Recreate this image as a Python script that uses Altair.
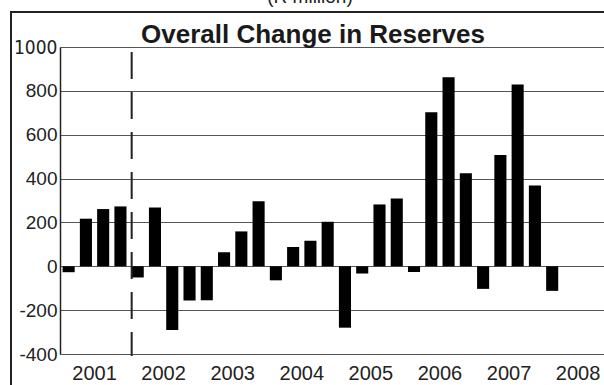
import altair as alt
import pandas as pd

# ---- data ----
quarters = [
    "2001Q1", "2001Q2", "2001Q3", "2001Q4",
    "2002Q1", "2002Q2", "2002Q3", "2002Q4",
    "2003Q1", "2003Q2", "2003Q3", "2003Q4",
    "2004Q1", "2004Q2", "2004Q3", "2004Q4",
    "2005Q1", "2005Q2", "2005Q3", "2005Q4",
    "2006Q1", "2006Q2", "2006Q3", "2006Q4",
    "2007Q1", "2007Q2", "2007Q3", "2007Q4",
    "2008Q1",
]
values = [
    -27, 217, 261, 273,
    -51, 268, -291, -156,
    -155, 64, 159, 297,
    -64, 88, 117, 203,
    -280, -33, 282, 309,
    -26, 703, 862, 424,
    -103, 508, 829, 368,
    -112,
]
years = [2001, 2002, 2003, 2004, 2005, 2006, 2007, 2008]
y_ticks = [-400, -200, 0, 200, 400, 600, 800, 1000]
separator_pos = [4.15]   # dashed divider just after 2001Q4
title_text = "Overall Change in Reserves"
unit_text = "(R million)"

# ---- build tables ----
df = pd.DataFrame({"quarter": quarters, "value": values})
df["i"] = range(len(df))
df["x0"] = df["i"] + 0.15
df["x1"] = df["i"] + 0.85
sep_df = pd.DataFrame({"pos": separator_pos})
year_df = pd.DataFrame({"year": [str(y) for y in years]})
year_df["mid"] = [(y - years[0]) * 4 + 2 for y in years]

W, H = 544, 307
FONT = "Liberation Sans"

x_scale = alt.Scale(domain=[0, 31.5], nice=False, zero=False)
y_scale = alt.Scale(domain=[-400, 1000], nice=False)

x_axis = alt.Axis(
    values=[v * 4 for v in range(0, 8)],
    title=None,
    grid=False,
    domain=True,
    domainColor="#222222",
    domainWidth=1,
    ticks=True,
    tickSize=5,
    tickColor="#222222",
    labels=False,
)
y_axis = alt.Axis(
    values=y_ticks,
    title=None,
    grid=True,
    gridColor="#555555",
    gridWidth=1,
    domain=True,
    domainColor="#222222",
    domainWidth=1.5,
    ticks=False,
    labelExpr="toString(datum.value)",
    labelFont={"condition": {"test": "datum.value == 1000",
                             "value": "Liberation Sans Narrow, DejaVu Sans Condensed, Liberation Sans"},
               "value": FONT},
    labelFontSize=19,
    labelColor="#222222",
    labelPadding=3,
    labelOverlap=False,
    labelFlush=False,
)

bars = alt.Chart(df).mark_bar(color="#000000").encode(
    x=alt.X("x0:Q", scale=x_scale, axis=x_axis),
    x2="x1:Q",
    y=alt.Y("value:Q", scale=y_scale, axis=y_axis),
    y2=alt.datum(0),
)

year_labels = alt.Chart(year_df).mark_text(
    font=FONT, fontSize=20, color="#222222", align="center", baseline="alphabetic"
).encode(
    x=alt.X("mid:Q", scale=x_scale, axis=None),
    y=alt.value(H + 26),
    text="year:N",
)

sep = alt.Chart(sep_df).mark_rule(
    color="#222222", strokeWidth=2, strokeDash=[27, 13]
).encode(
    x=alt.X("pos:Q", scale=x_scale, axis=None),
    y=alt.value(5),
    y2=alt.value(H + 2),
)

frame_top = alt.Chart(sep_df).mark_rule(color="#222222", strokeWidth=2).encode(
    x=alt.value(-49), x2=alt.value(W + 5), y=alt.value(-35)
)
frame_left = alt.Chart(sep_df).mark_rule(color="#222222", strokeWidth=2).encode(
    x=alt.value(-49), y=alt.value(-36), y2=alt.value(H + 40)
)

title = alt.Chart(sep_df).mark_text(
    text=title_text, font=FONT, fontSize=26, fontWeight="bold",
    color="#1a1a1a", align="center", baseline="alphabetic"
).encode(x=alt.value(253), y=alt.value(-4.5))

unit = alt.Chart(sep_df).mark_text(
    text=unit_text, font=FONT, fontSize=19,
    color="#222222", align="center", baseline="alphabetic"
).encode(x=alt.value(250), y=alt.value(-44))

chart = alt.layer(bars, year_labels, sep, frame_top, frame_left, title, unit).properties(
    width=W,
    height=H,
    autosize=alt.AutoSizeParams(type="none"),
    padding={"left": 60, "top": 47, "right": 0, "bottom": 31},
).configure_view(stroke=None).configure(background="white")

chart.save("out.html", embed_options={"renderer": "svg", "actions": False})
